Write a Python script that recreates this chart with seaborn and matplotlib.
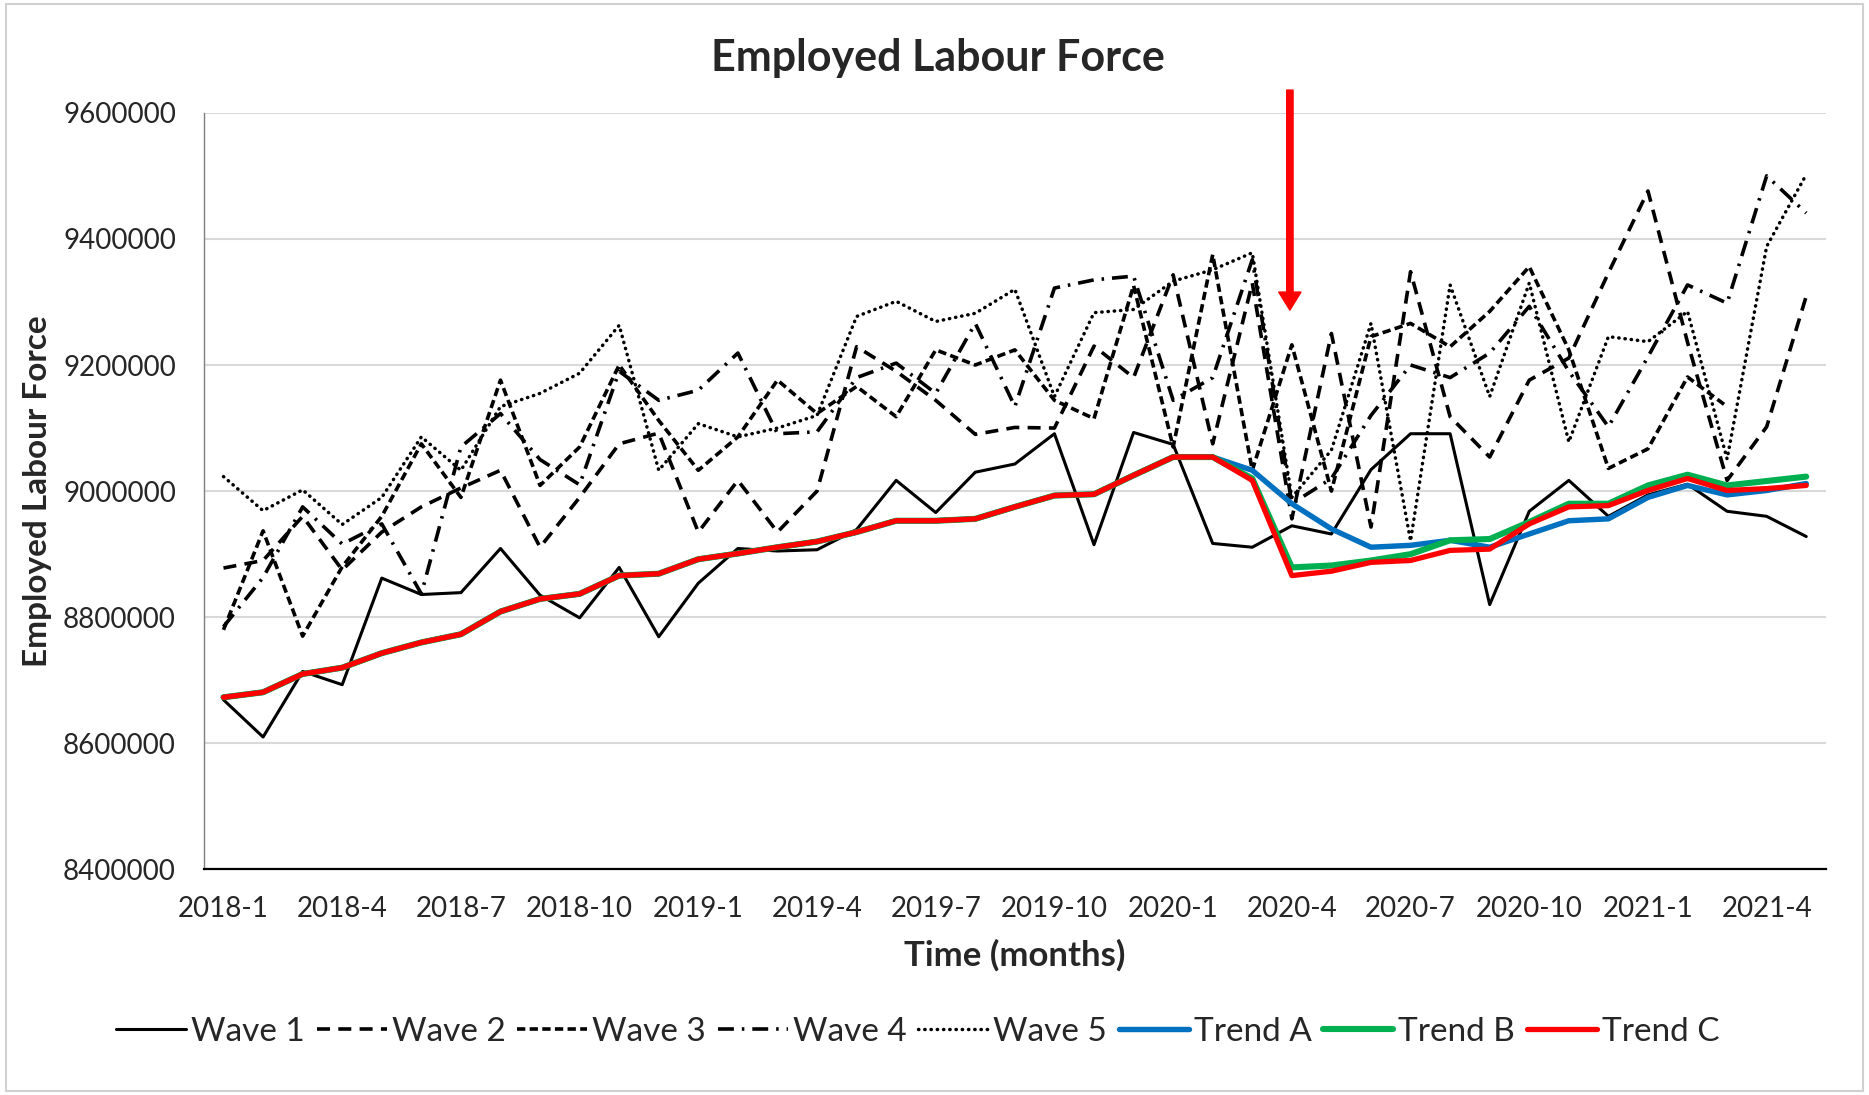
# Employed labour force by wave, with three trend estimates
import numpy as np
import matplotlib
matplotlib.use('Agg')
import matplotlib.pyplot as plt
import seaborn as sns
from matplotlib.lines import Line2D
from matplotlib.patches import Rectangle

# Data (in persons)
months = ['2018-1', '2018-2', '2018-3', '2018-4', '2018-5', '2018-6', '2018-7', '2018-8', '2018-9',
          '2018-10', '2018-11', '2018-12', '2019-1', '2019-2', '2019-3', '2019-4', '2019-5', '2019-6',
          '2019-7', '2019-8', '2019-9', '2019-10', '2019-11', '2019-12', '2020-1', '2020-2', '2020-3',
          '2020-4', '2020-5', '2020-6', '2020-7', '2020-8', '2020-9', '2020-10', '2020-11', '2020-12',
          '2021-1', '2021-2', '2021-3', '2021-4', '2021-5']

wave1 = [8669000, 8610000, 8714000, 8693000, 8862000, 8836000, 8839000, 8909000, 8835000, 8799000,
         8879000, 8769000, 8854000, 8909000, 8905000, 8907000, 8939000, 9017000, 8966000, 9030000,
         9043000, 9091000, 8915000, 9093000, 9074000, 8917000, 8911000, 8945000, 8932000, 9034000,
         9091000, 9091000, 8820000, 8968000, 9017000, 8960000, 8994000, 9011000, 8968000, 8960000,
         8928000]
wave2 = [8878000, 8890000, 8960000, 8875000, 8935000, 8975000, 9005000, 9033000, 8911000, 8990000,
         9075000, 9092000, 8935000, 9017000, 8935000, 9000000, 9229000, 9190000, 9144000, 9090000,
         9101000, 9100000, 9230000, 9180000, 9343000, 9075000, 9330000, 8956000, 9250000, 8943000,
         9348000, 9118000, 9054000, 9176000, 9211000, 9346000, 9476000, 9236000, 9017000, 9102000,
         9309000]
wave3 = [8780000, 8937000, 8770000, 8880000, 8960000, 9075000, 8990000, 9176000, 9009000, 9070000,
         9200000, 9112000, 9033000, 9086000, 9176000, 9123000, 9166000, 9118000, 9224000, 9200000,
         9224000, 9144000, 9115000, 9326000, 9070000, 9375000, 9033000, 9232000, 9000000, 9245000,
         9266000, 9229000, 9285000, 9356000, 9224000, 9036000, 9067000, 9181000, 9134000, np.nan,
         np.nan]
wave4 = [8785000, 8863000, 8975000, 8916000, 8948000, 8837000, 9070000, 9123000, 9050000, 9010000,
         9190000, 9144000, 9160000, 9219000, 9091000, 9094000, 9180000, 9203000, 9155000, 9266000,
         9134000, 9322000, 9335000, 9341000, 9144000, 9180000, 9367000, 8980000, 9020000, 9120000,
         9200000, 9180000, 9219000, 9293000, 9190000, 9102000, 9213000, 9327000, 9298000, 9500000,
         9441000]
wave5 = [9023000, 8969000, 9002000, 8947000, 8990000, 9086000, 9033000, 9134000, 9155000, 9187000,
         9263000, 9033000, 9107000, 9086000, 9100000, 9120000, 9277000, 9301000, 9269000, 9282000,
         9320000, 9150000, 9283000, 9288000, 9333000, 9351000, 9378000, 8990000, 9065000, 9266000,
         8921000, 9327000, 9150000, 9330000, 9078000, 9245000, 9237000, 9285000, 9051000, 9388000,
         9502000]
trend_a = [8673000, 8681000, 8710000, 8720000, 8743000, 8760000, 8773000, 8809000, 8829000, 8837000,
           8866000, 8869000, 8892000, 8901000, 8911000, 8920000, 8935000, 8953000, 8953000, 8956000,
           8975000, 8993000, 8995000, 9025000, 9054000, 9054000, 9033000, 8980000, 8940000, 8911000,
           8914000, 8922000, 8911000, 8932000, 8953000, 8956000, 8990000, 9009000, 8994000, 9001000,
           9012000]
trend_b = [8673000, 8681000, 8710000, 8720000, 8743000, 8760000, 8773000, 8809000, 8829000, 8837000,
           8866000, 8869000, 8892000, 8901000, 8911000, 8920000, 8935000, 8953000, 8953000, 8956000,
           8975000, 8993000, 8995000, 9025000, 9054000, 9054000, 9020000, 8879000, 8882000, 8890000,
           8900000, 8922000, 8924000, 8951000, 8980000, 8980000, 9009000, 9026000, 9009000, 9016000,
           9023000]
trend_c = [8673000, 8681000, 8710000, 8720000, 8743000, 8760000, 8773000, 8809000, 8829000, 8837000,
           8866000, 8869000, 8892000, 8901000, 8911000, 8920000, 8935000, 8953000, 8953000, 8956000,
           8975000, 8993000, 8995000, 9025000, 9054000, 9054000, 9017000, 8866000, 8873000, 8887000,
           8890000, 8906000, 8908000, 8948000, 8975000, 8977000, 9001000, 9020000, 9001000, 9004000,
           9009000]

y_ticks = [8400000, 8600000, 8800000, 9000000, 9200000, 9400000, 9600000]
label_every = 3
arrow_month = 26.95
arrow_from, arrow_to = 9636000, 9287000

sns.set_style('white')
plt.rcParams['font.family'] = ['Lato', 'DejaVu Sans']

fig, ax = plt.subplots(figsize=(18.69, 10.95), dpi=100)
fig.subplots_adjust(left=0.109, right=0.977, top=0.897, bottom=0.206)

x = np.arange(len(months))

# name, values, colour, width, dash pattern (None = solid), round caps
series = [
    ('Wave 1', wave1, 'black', 2.2, None, False),
    ('Wave 2', wave2, 'black', 2.6, (3.6, 2.3), False),
    ('Wave 3', wave3, 'black', 2.6, (2.3, 1.2), False),
    ('Wave 4', wave4, 'black', 2.6, (4.4, 2.2, 0.7, 2.2), False),
    ('Wave 5', wave5, 'black', 2.5, (0.1, 1.7), True),
    ('Trend A', trend_a, '#0070C0', 3.9, None, False),
    ('Trend B', trend_b, '#00B050', 4.4, None, False),
    ('Trend C', trend_c, '#FF0000', 3.8, None, False),
]

handles = []
for name, vals, col, lw, dash, rnd in series:
    sns.lineplot(x=x, y=vals, ax=ax, color=col, linewidth=lw, legend=False)
    ln = ax.lines[-1]
    if dash is not None:
        ln.set_linestyle((0, dash))
    if rnd:
        ln.set_dash_capstyle('round')
    h = Line2D([0], [0], color=col, linewidth=lw,
               linestyle=(0, dash) if dash is not None else '-')
    if rnd:
        h.set_dash_capstyle('round')
    handles.append(h)

# axes look (Excel-like)
ax.set_xlim(-0.5, len(months) - 0.5)
ax.set_ylim(y_ticks[0], y_ticks[-1])
ax.set_yticks(y_ticks)
ax.set_yticklabels([str(v) for v in y_ticks])
ax.set_xticks(x[::label_every])
ax.set_xticklabels(months[::label_every])
ax.set_xticks(np.arange(-0.5, len(months), 1), minor=True)
ax.tick_params(axis='x', which='major', length=0, pad=19, labelsize=20)
ax.tick_params(axis='x', which='minor', length=7, width=1.2, color='black', direction='out')
ax.tick_params(axis='y', length=0, pad=20, labelsize=20)

ax.yaxis.grid(True, color='#d9d9d9', linewidth=1.5)
ax.set_axisbelow(True)
for s in ['top', 'right']:
    ax.spines[s].set_visible(False)
ax.spines['bottom'].set_color('black')
ax.spines['bottom'].set_linewidth(1.6)
ax.spines['left'].set_color('#7f7f7f')
ax.spines['left'].set_linewidth(1.0)

ax.set_xlabel('Time (months)', fontsize=25, fontweight='bold', labelpad=12)
ax.set_ylabel('Employed Labour Force', fontsize=24, fontweight='bold', labelpad=8)
fig.text(0.502, 0.947, 'Employed Labour Force', ha='center', va='center',
         fontsize=31, fontweight='bold')

# red arrow marking 2020-4
ax.annotate('', xy=(arrow_month, arrow_to), xytext=(arrow_month, arrow_from),
            arrowprops=dict(width=4.6, headwidth=16, headlength=13, color='red', shrink=0),
            annotation_clip=False)

fig.legend(handles, [s[0] for s in series], loc='center', bbox_to_anchor=(0.491, 0.0575),
           ncol=8, frameon=False, fontsize=24, handlelength=2.1, handletextpad=0.15,
           columnspacing=0.35)

# chart area border
fig.patches.append(Rectangle((0.003, 0.004), 0.994, 0.992, transform=fig.transFigure,
                             fill=False, edgecolor='#d0d0d0', linewidth=1.5))

fig.savefig('out.png', dpi=100)
